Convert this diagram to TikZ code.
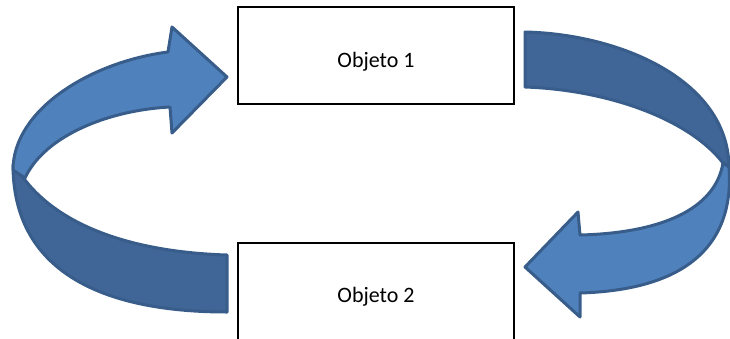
\documentclass[tikz,border=0pt]{standalone}
\usepackage{fontspec}
\setmainfont{Carlito}
\definecolor{lightblue}{HTML}{4F81BD}
\definecolor{darkblue}{HTML}{406597}
\definecolor{edgeblue}{HTML}{385D8A}
\tikzset{
  objbox/.style={draw=black, line width=1.6pt, fill=white, minimum width=276pt, minimum height=97pt, inner sep=0pt},
  objlabel/.style={font=\fontsize{22}{26}\selectfont, inner sep=0pt, anchor=base},
  lightface/.style={fill=lightblue, draw=edgeblue, line width=3pt, line join=round},
  darkface/.style={fill=darkblue, draw=edgeblue, line width=3pt, line join=round}
}
\begin{document}
\begin{tikzpicture}[x=1pt,y=-1pt]
\useasboundingbox (0,0) rectangle (730,338);
\clip (0,0) rectangle (730,338);
% boxes
\node[objbox] (o1) at (376,55.5) {};
\node[objlabel] (t1) at (376,67.7) {Objeto 1};
\node[objbox, minimum height=104pt] (o2) at (376,295) {};
\node[objlabel] (t2) at (376,302) {Objeto 2};
% left curved arrow
\draw[darkface] (13,165) .. controls (13,270) and (100,312) .. (227,312) -- (227,255)
   .. controls (130,252) and (60,225) .. (25,180) -- cycle;
\draw[lightface] (172,27) -- (227,77) -- (172,133) -- (170,107)
   .. controls (110,110) and (45,135) .. (25,178) -- (13,170)
   .. controls (13,110) and (90,62) .. (168,52) -- cycle;
% right curved arrow
\draw[darkface] (525,32) .. controls (620,34) and (728,80) .. (729,167) -- (723,163)
   .. controls (690,120) and (610,90) .. (525,87) -- cycle;
\draw[lightface] (729,167) .. controls (735,250) and (680,290) .. (580,293) -- (580,317)
   -- (525,267) -- (578,212) -- (580,235)
   .. controls (660,233) and (715,210) .. (723,163) -- cycle;
\end{tikzpicture}
\end{document}
